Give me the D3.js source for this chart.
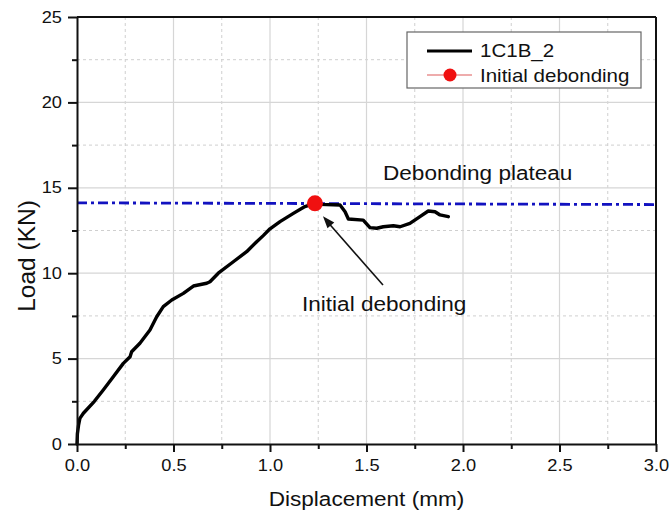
<!DOCTYPE html>
<html>
<head>
<meta charset="utf-8">
<script src="https://cdn.jsdelivr.net/npm/d3@7"></script>
<style>
  html, body { margin: 0; padding: 0; background: #fff; }
  svg { display: block; }
  text { font-family: "Liberation Sans", Arial, sans-serif; fill: #111; }
</style>
</head>
<body>
<svg id="chart" width="670" height="515"></svg>
<script>
// ---- data ----
const disp = [0, 0.002, 0.008, 0.015, 0.033, 0.09, 0.136, 0.188, 0.24, 0.275, 0.283, 0.326, 0.378, 0.413, 0.447, 0.491, 0.551, 0.603, 0.672, 0.689, 0.732, 0.81, 0.879, 0.931, 0.965, 1.0, 1.052, 1.121, 1.181, 1.233, 1.259, 1.363, 1.389, 1.406, 1.483, 1.518, 1.553, 1.587, 1.639, 1.674, 1.725, 1.777, 1.82, 1.855, 1.881, 1.924];
const load = [0, 0.6, 1.1, 1.5, 1.8, 2.5, 3.16, 3.94, 4.72, 5.11, 5.4, 5.9, 6.67, 7.45, 8.04, 8.43, 8.82, 9.25, 9.41, 9.5, 10.0, 10.67, 11.26, 11.84, 12.2, 12.6, 13.02, 13.5, 13.9, 14.09, 14.03, 13.99, 13.6, 13.17, 13.11, 12.67, 12.63, 12.72, 12.78, 12.72, 12.92, 13.31, 13.64, 13.6, 13.41, 13.31];
const initX = [1.233];
const initY = [14.09];
const plateauX = [0, 3];
const plateauY = [14.12, 14.02];
const xMajor = [0, 0.5, 1.0, 1.5, 2.0, 2.5, 3.0];
const xMinor = [0.25, 0.75, 1.25, 1.75, 2.25, 2.75];
const yMajor = [0, 5, 10, 15, 20, 25];
const yMinor = [2.5, 7.5, 12.5, 17.5, 22.5];
const seriesNames = ["1C1B_2", "Initial debonding"];
const xTitle = "Displacement (mm)";
const yTitle = "Load (KN)";
const plateauLabel = "Debonding plateau";
const arrowLabel = "Initial debonding";

// ---- layout ----
const SX = 1.14; // horizontal text stretch of the reference image
const svg = d3.select("#chart");
const L = 77, R = 656, T = 17, B = 444;
const x = d3.scaleLinear().domain([0, 3]).range([L, R]);
const y = d3.scaleLinear().domain([0, 25]).range([B, T]);

function stretchText(sel) {
  sel.each(function () {
    const t = d3.select(this);
    const xv = +t.attr("x") || 0;
    t.attr("x", xv / SX).attr("transform", `scale(${SX},1)`);
  });
}
function sText(g, px, py, str, size, anchor) {
  return g.append("text")
    .attr("transform", `translate(${px},${py}) scale(${SX},1)`)
    .attr("text-anchor", anchor || "start")
    .style("font-size", size + "px")
    .text(str);
}

// grid
const grid = svg.append("g");
grid.selectAll(".gxm").data(xMinor).join("line")
  .attr("x1", d => x(d)).attr("x2", d => x(d)).attr("y1", T).attr("y2", B)
  .attr("stroke", "#cfcfcf").attr("stroke-width", 1).attr("stroke-dasharray", "3,3");
grid.selectAll(".gym").data(yMinor).join("line")
  .attr("y1", d => y(d)).attr("y2", d => y(d)).attr("x1", L).attr("x2", R)
  .attr("stroke", "#cfcfcf").attr("stroke-width", 1).attr("stroke-dasharray", "3,3");
grid.selectAll(".gxM").data(xMajor.slice(1, -1)).join("line")
  .attr("x1", d => x(d)).attr("x2", d => x(d)).attr("y1", T).attr("y2", B)
  .attr("stroke", "#d6d6d6").attr("stroke-width", 1.2);
grid.selectAll(".gyM").data(yMajor.slice(1, -1)).join("line")
  .attr("y1", d => y(d)).attr("y2", d => y(d)).attr("x1", L).attr("x2", R)
  .attr("stroke", "#d6d6d6").attr("stroke-width", 1.2);

// plateau line
const line = d3.line().x(d => x(d[0])).y(d => y(d[1]));
svg.append("path")
  .datum(plateauX.map((v, i) => [v, plateauY[i]]))
  .attr("d", line)
  .attr("fill", "none").attr("stroke", "#1212c0").attr("stroke-width", 2.8)
  .attr("stroke-dasharray", "10,4,3,4");

// curve
svg.append("path")
  .datum(disp.map((v, i) => [v, load[i]]))
  .attr("d", line)
  .attr("fill", "none").attr("stroke", "#000").attr("stroke-width", 3.4)
  .attr("stroke-linejoin", "round").attr("stroke-linecap", "round");

// initial debonding marker
svg.selectAll(".init").data(initX).join("circle")
  .attr("cx", d => x(d)).attr("cy", (d, i) => y(initY[i])).attr("r", 8)
  .attr("fill", "#f01010");

// axes
const axisStyle = g => {
  g.selectAll("path, line").attr("stroke", "#111").attr("stroke-width", 2);
  g.selectAll("text").style("font-size", "16px").attr("fill", "#111")
    .style("font-family", '"Liberation Sans", Arial, sans-serif');
};
const xAxis = svg.append("g").attr("transform", `translate(0,${B})`)
  .call(d3.axisBottom(x).tickValues(xMajor).tickFormat(d3.format(".1f"))
    .tickSize(8).tickSizeOuter(0).tickPadding(8))
  .call(axisStyle);
xAxis.selectAll("text").call(stretchText);
svg.append("g").attr("transform", `translate(0,${B})`)
  .call(d3.axisBottom(x).tickValues(xMinor).tickFormat("").tickSize(5).tickSizeOuter(0))
  .call(axisStyle).select(".domain").remove();

const yAxis = svg.append("g").attr("transform", `translate(${L},0)`)
  .call(d3.axisLeft(y).tickValues(yMajor).tickFormat(d3.format("d"))
    .tickSize(9).tickSizeOuter(0).tickPadding(6))
  .call(axisStyle);
yAxis.selectAll("text").call(stretchText);
svg.append("g").attr("transform", `translate(${L},0)`)
  .call(d3.axisLeft(y).tickValues(yMinor).tickFormat("").tickSize(5).tickSizeOuter(0))
  .call(axisStyle).select(".domain").remove();

// frame top/right
svg.append("line").attr("x1", L).attr("x2", R).attr("y1", T).attr("y2", T)
  .attr("stroke", "#111").attr("stroke-width", 2);
svg.append("line").attr("x1", R).attr("x2", R).attr("y1", T).attr("y2", B)
  .attr("stroke", "#111").attr("stroke-width", 2);

// titles
sText(svg, (L + R) / 2, 506, xTitle, 19.8, "middle");
svg.append("text")
  .attr("transform", `translate(35,256) rotate(-90)`)
  .attr("text-anchor", "middle").style("font-size", "24.5px").text(yTitle);

// annotations
sText(svg, 383, 180, plateauLabel, 19.8, "start");
sText(svg, 302, 311, arrowLabel, 19.8, "start");
const ax1 = 383, ay1 = 285, ax2 = x(initX[0]) + 8, ay2 = y(initY[0]) + 13;
svg.append("line").attr("x1", ax1).attr("y1", ay1).attr("x2", ax2 + 4).attr("y2", ay2 + 5)
  .attr("stroke", "#111").attr("stroke-width", 1.6);
const ang = Math.atan2(ay2 - ay1, ax2 - ax1);
const hl = 12, hw = 4.5;
const bx = ax2 - hl * Math.cos(ang), by = ay2 - hl * Math.sin(ang);
svg.append("path")
  .attr("d", `M${ax2},${ay2} L${bx - hw * Math.sin(ang)},${by + hw * Math.cos(ang)} L${bx + hw * Math.sin(ang)},${by - hw * Math.cos(ang)} Z`)
  .attr("fill", "#111");

// legend
const lg = svg.append("g");
lg.append("rect").attr("x", 407).attr("y", 32).attr("width", 234).attr("height", 56)
  .attr("fill", "#fff").attr("stroke", "#666").attr("stroke-width", 1.2);
lg.append("line").attr("x1", 427).attr("x2", 472).attr("y1", 51).attr("y2", 51)
  .attr("stroke", "#000").attr("stroke-width", 3.2);
sText(lg, 480, 57, seriesNames[0], 18, "start");
lg.append("line").attr("x1", 427).attr("x2", 472).attr("y1", 75).attr("y2", 75)
  .attr("stroke", "#e89090").attr("stroke-width", 1.5);
lg.append("circle").attr("cx", 450).attr("cy", 75).attr("r", 6.5).attr("fill", "#f01010");
sText(lg, 480, 82, seriesNames[1], 18, "start");
</script>
</body>
</html>
